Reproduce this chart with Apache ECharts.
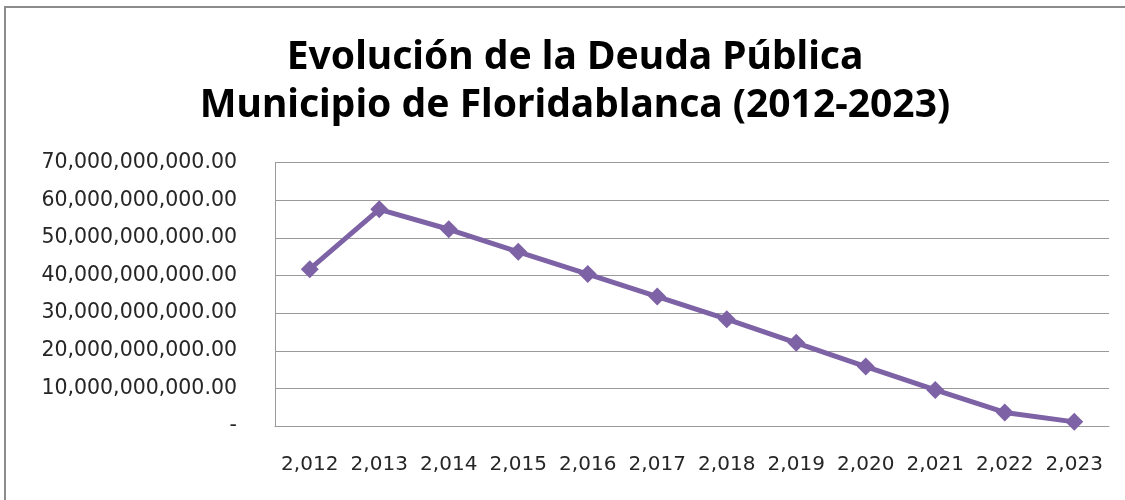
<!DOCTYPE html>
<html>
<head>
<meta charset="utf-8">
<script src="https://cdn.jsdelivr.net/npm/echarts@6/dist/echarts.min.js"></script>
<style>
  html, body { margin: 0; padding: 0; background: #fff; }
  #chart { width: 1125px; height: 500px; }
</style>
</head>
<body>
<div id="chart"></div>
<script>
// años (categorías) y saldo de deuda
const years = ['2,012', '2,013', '2,014', '2,015', '2,016', '2,017', '2,018', '2,019', '2,020', '2,021', '2,022', '2,023'];
const deuda = [41.7e9, 57.6e9, 52.3e9, 46.3e9, 40.4e9, 34.4e9, 28.4e9, 22.1e9, 15.8e9, 9.6e9, 3.6e9, 1.1e9];
const titleLines = ['Evolución de la Deuda Pública', 'Municipio de Floridablanca (2012-2023)'];

function fmtMoney(v) {
    if (v === 0) return '-';
    return v.toLocaleString('en-US', { minimumFractionDigits: 2, maximumFractionDigits: 2 });
}

const myChart = echarts.init(document.getElementById('chart'));

const option = {
    backgroundColor: '#fff',
    animation: false,
    title: {
        text: titleLines.join('\n'),
        left: 570,
        textAlign: 'center',
        top: 29,
        textStyle: {
            fontFamily: 'Noto Sans',
            fontWeight: 'bold',
            fontSize: 39,
            lineHeight: 48,
            color: '#000'
        }
    },
    graphic: [
        {
            // marco exterior del gráfico
            type: 'rect',
            shape: { x: 5, y: 7, width: 1200, height: 600 },
            style: { fill: 'none', stroke: '#8c8c8c', lineWidth: 2 },
            silent: true
        }
    ],
    grid: {
        left: 275,
        right: 16,
        top: 162.7,
        bottom: 74
    },
    xAxis: {
        type: 'category',
        data: years,
        boundaryGap: true,
        axisLine: { lineStyle: { color: '#9a9a9a', width: 1 } },
        axisTick: { show: false },
        axisLabel: {
            interval: 0,
            margin: 29,
            fontFamily: 'DejaVu Sans',
            fontSize: 20,
            color: '#262626'
        }
    },
    yAxis: {
        type: 'value',
        min: 0,
        max: 70e9,
        interval: 10e9,
        axisLine: { show: true, lineStyle: { color: '#9a9a9a', width: 1 } },
        axisTick: { show: false },
        splitLine: { lineStyle: { color: '#9a9a9a', width: 1 } },
        axisLabel: {
            margin: 38,
            fontFamily: 'DejaVu Sans',
            fontSize: 20.5,
            color: '#262626',
            formatter: fmtMoney
        }
    },
    series: [
        {
            type: 'line',
            data: deuda,
            symbol: 'diamond',
            symbolSize: 18,
            lineStyle: { color: '#7e62a6', width: 5 },
            itemStyle: { color: '#7e62a6' }
        }
    ]
};

myChart.setOption(option);
</script>
</body>
</html>
